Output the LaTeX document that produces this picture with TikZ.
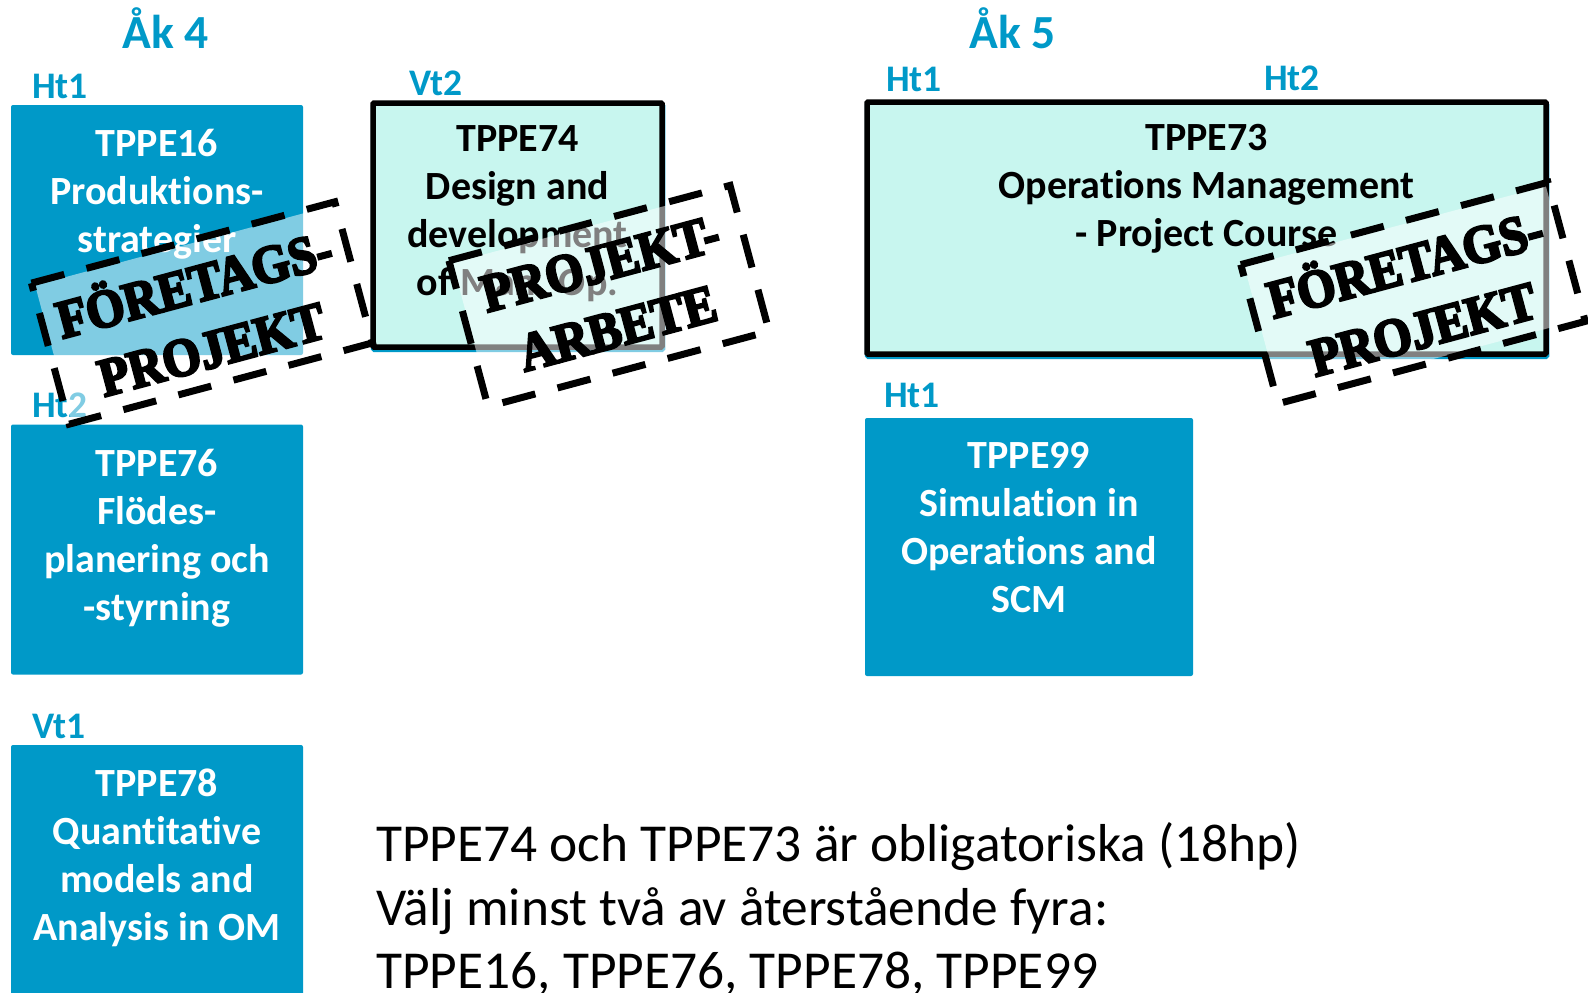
\documentclass[tikz,border=0pt]{standalone}
\usepackage{fontspec}
\setmainfont[Ligatures=NoCommon]{Carlito}
\newfontfamily\stampfont[BoldFeatures={FakeBold=4.5,FakeStretch=0.91}]{Liberation Serif}
\usetikzlibrary{positioning}
\definecolor{kursblue}{HTML}{0099C8}
\definecolor{kursmint}{HTML}{C8F6EF}
\begin{document}
\begin{tikzpicture}[x=1pt, y=-1pt,
rubrik/.style={text=kursblue, font=\fontsize{47.5}{52}\selectfont\bfseries, inner sep=0pt},
termin/.style={text=kursblue, font=\fontsize{37.5}{44}\selectfont\bfseries, inner sep=0pt},
ruta/.style={anchor=north west, inner sep=0pt, outer sep=0pt},
blue box/.style={ruta, fill=kursblue, rounded corners=2pt},
mint box/.style={ruta, fill=kursmint, draw=black, line width=5.5pt, rounded corners=1pt,
    preaction={draw=kursblue, transform canvas={xshift=0.6pt, yshift=-2.4pt}}},
kurs/.style={anchor=north, inner sep=0pt, align=center,
    font=\fontsize{40}{48}\selectfont\bfseries},
stamp/.style={fill=white, fill opacity=0.5, text opacity=1, rotate=15, inner sep=0pt,
    outer sep=3pt, align=center, font=\fontsize{54}{67}\stampfont\bfseries},
stamp line/.style={draw=black, line width=7pt, dash pattern=on 34pt off 23pt}]
\path[use as bounding box, clip] (0,0) rectangle (1588,993);

\node[rubrik] (ak4) at (165.5,28) {Åk 4};
\node[rubrik] (ak5) at (1012.5,28) {Åk 5};
\node[termin] (ht1a) at (60,86) {Ht1};
\node[termin] (ht2a) at (60,405) {Ht2};
\node[termin] (vt1a) at (59,726) {Vt1};
\node[termin] (vt2a) at (436,83) {Vt2};
\node[termin] (ht1b) at (914,79) {Ht1};
\node[termin] (ht2b) at (1292,78) {Ht2};
\node[termin] (ht1c) at (912,395) {Ht1};

\node[blue box, minimum width=292pt, minimum height=250pt] (tppe16) at (11,105) {};
\node[blue box, minimum width=292pt, minimum height=250pt] (tppe76) at (11,424.5) {};
\node[blue box, minimum width=292pt, minimum height=260pt] (tppe78) at (11,745) {};
\node[blue box, minimum width=328pt, minimum height=258pt] (tppe99) at (865,418) {};
\node[mint box, minimum width=289pt, minimum height=244pt] (tppe74) at (373,103) {};
\node[mint box, minimum width=679pt, minimum height=252pt] (tppe73) at (867,102) {};

\node[kurs, text=white, below=24pt of tppe16.north] {TPPE16\\Produktions-\\strategier};
\node[kurs, text=white, below=24pt of tppe76.north] {TPPE76\\Flödes-\\planering och\\-styrning};
\node[kurs, text=white, below=24pt of tppe78.north] {TPPE78\\Quantitative\\models and\\Analysis in OM};
\node[kurs, text=white, below=24pt of tppe99.north] {TPPE99\\Simulation in\\Operations and\\SCM};
\node[kurs, text=black, below=22pt of tppe74.north] {TPPE74\\Design and\\development\\of Man. Op.};
\node[kurs, text=black, below=22pt of tppe73.north] {TPPE73\\Operations Management\\- Project Course};

\node[stamp, minimum width=308pt, minimum height=140pt] (foretag1) at (202,313) {FÖRETAGS-\\PROJEKT};
\node[stamp, minimum width=285pt, minimum height=145pt] (arbete) at (609,296) {PROJEKT-\\ARBETE};
\node[stamp, minimum width=312pt, minimum height=138pt] (foretag2) at (1413,293) {FÖRETAGS-\\PROJEKT};
\foreach \n in {foretag1,arbete,foretag2}
    \draw[stamp line] (\n.north west) -- (\n.north east) -- (\n.south east) -- (\n.south west) -- cycle;

\node[anchor=north west, inner sep=0pt, align=left, font=\fontsize{53.4}{63.5}\selectfont] (info) at (376,822.5)
    {TPPE74 och TPPE73 är obligatoriska (18hp)\\Välj minst två av återstående fyra:\\TPPE16, TPPE76, TPPE78, TPPE99};
\end{tikzpicture}
\end{document}
